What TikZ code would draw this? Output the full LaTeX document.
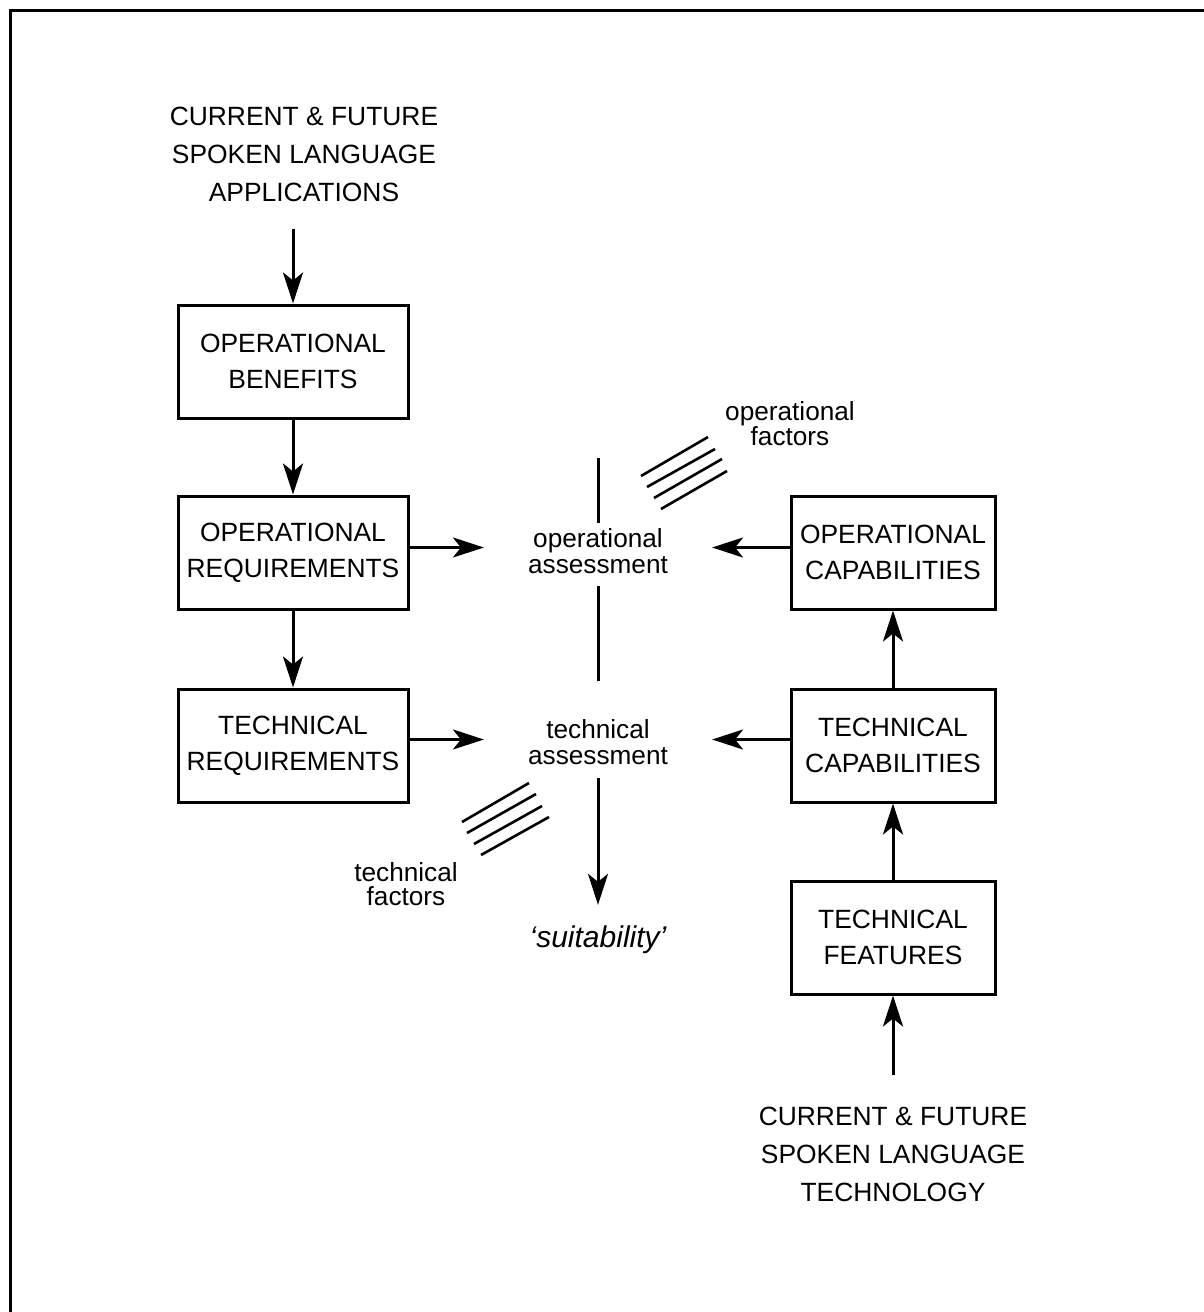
\documentclass[tikz,border=0pt]{standalone}
\usepackage{fontspec}
\setmainfont{Liberation Sans}
\usetikzlibrary{arrows.meta}
\begin{document}
\begin{tikzpicture}[x=1pt,y=-1pt,
  lw/.style={line width=3pt},
  box/.style={draw,line width=3pt,minimum height=113pt,inner sep=0pt,align=center,font=\fontsize{26.4}{36}\selectfont},
  lbox/.style={box,minimum width=230pt},
  rbox/.style={box,minimum width=204pt},
  big/.style={align=center,font=\fontsize{26.4}{38}\selectfont,inner sep=0pt},
  small/.style={align=center,font=\fontsize{26.2}{26}\selectfont,inner sep=0pt},
  assess/.style={small,inner xsep=44pt,inner ysep=0pt},
  arr/.style={line width=3pt,-{Stealth[length=31pt,width=20pt,inset=8pt]}},
  hatch/.style={line width=2.6pt}
]
\useasboundingbox (0,0) rectangle (1203,1312);
\fill[white] (0,0) rectangle (1203,1312);
\draw[line width=3pt] (10,10) rectangle (1240,1350);

% left column
\node[big] (apps) at (304,154) {CURRENT \& FUTURE\\SPOKEN LANGUAGE\\APPLICATIONS};
\node[lbox] (OB) at (293,361.5) {OPERATIONAL\\BENEFITS};
\node[lbox] (OR) at (293,552.5) {OPERATIONAL\\REQUIREMENTS};
\node[lbox] (TR) at (293,745.5) {TECHNICAL\\REQUIREMENTS};

% right column
\node[rbox] (OC) at (893,552.5) {OPERATIONAL\\CAPABILITIES};
\node[rbox] (TC) at (893,745.5) {TECHNICAL\\CAPABILITIES};
\node[rbox] (TF) at (893,937.5) {TECHNICAL\\FEATURES};
\node[big] (tech) at (893,1154) {CURRENT \& FUTURE\\SPOKEN LANGUAGE\\TECHNOLOGY};

% centre
\node[assess] (opa) at (598,551.5) {operational\\assessment};
\node[assess] (tca) at (598,742) {technical\\assessment};
\node[font=\fontsize{30}{30}\selectfont\itshape,inner sep=0pt] (suit) at (598,940) {‘suitability’};
\node[small,font=\fontsize{26.2}{24}\selectfont] (opf) at (790,423.5) {operational\\factors};
\node[small,font=\fontsize{26.2}{24}\selectfont] (tcf) at (406,884) {technical\\factors};

% connectors
\draw[arr,shorten <=27pt] (OB.north |- apps.south) -- (OB.north);
\draw[arr] (OB.south) -- (OR.north);
\draw[arr] (OR.south) -- (TR.north);
\draw[arr] ([yshift=5pt]OR.east) -- ([yshift=5pt]OR.east -| opa.west);
\draw[arr] ([yshift=6pt]TR.east) -- ([yshift=6pt]TR.east -| tca.west);
\draw[arr] ([yshift=5pt]OC.west) -- ([yshift=5pt]OC.west -| opa.east);
\draw[arr] ([yshift=6pt]TC.west) -- ([yshift=6pt]TC.west -| tca.east);
\draw[arr] (TC.north) -- (OC.south);
\draw[arr] (TF.north) -- (TC.south);
\draw[arr,shorten <=31pt] (tech.north) -- (TF.south);

% vertical axis
\draw[lw] ([yshift=71pt]opa.north) -- ([yshift=6pt]opa.north);
\draw[lw] ([yshift=-12pt]opa.south) -- ([yshift=38pt]tca.north);
\draw[arr] ([yshift=-13pt]tca.south) -- ([yshift=21pt]suit.north);

% hatching
\draw[hatch] (641,476) -- (708,437);
\draw[hatch] (647,487) -- (715,449);
\draw[hatch] (654,498) -- (722,459);
\draw[hatch] (661,509) -- (727,471);
\draw[hatch] (462,822) -- (529,783);
\draw[hatch] (467,833) -- (536,794);
\draw[hatch] (474,844) -- (542,806);
\draw[hatch] (481,855) -- (549,817);
\end{tikzpicture}
\end{document}
